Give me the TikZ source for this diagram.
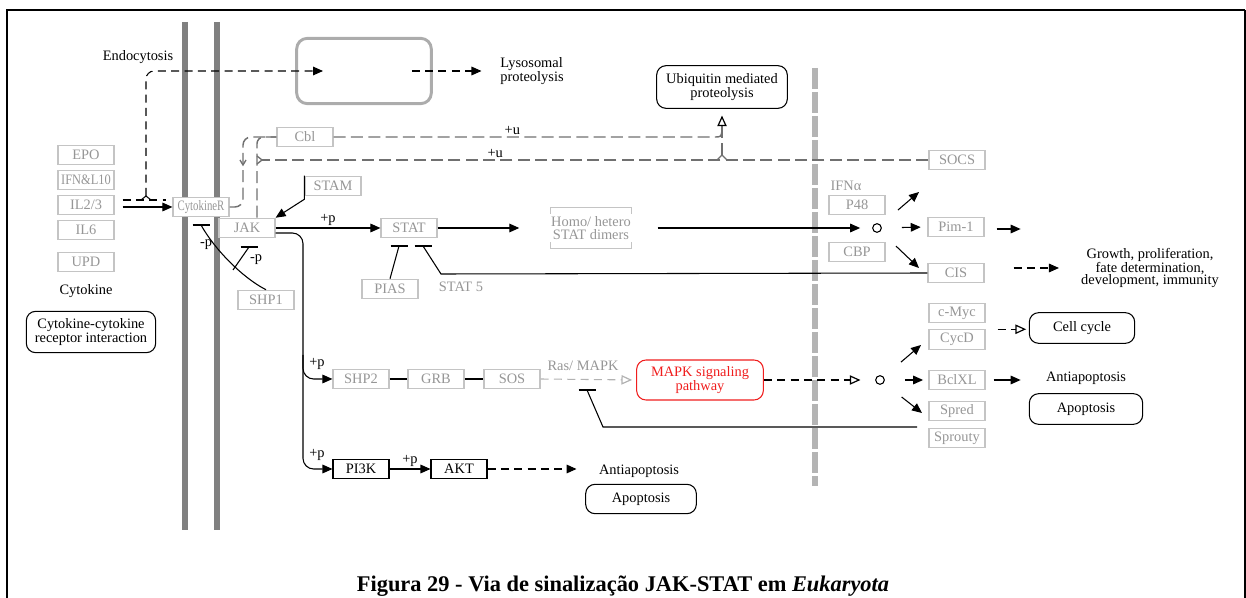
\documentclass[tikz,border=0pt]{standalone}
\usepackage{fontspec}
\setmainfont{Liberation Serif}
\usetikzlibrary{positioning,arrows.meta,calc}
\definecolor{gLine}{RGB}{196,196,196}
\definecolor{gText}{RGB}{150,150,150}
\definecolor{gMemb}{RGB}{128,128,128}
\definecolor{gNuc}{RGB}{180,180,180}
\definecolor{gDash}{RGB}{112,112,112}
\definecolor{kRed}{RGB}{240,30,30}
\newcommand{\kfont}{\fontsize{10.8}{9.2}\selectfont}
\tikzset{
  gene/.style={rectangle, draw=gLine, fill=white, text=gText, line width=0.9pt,
               minimum width=42pt, minimum height=14.5pt, inner sep=0.5pt, font=\kfont},
  genek/.style={gene, draw=black, text=black, line width=0.8pt},
  pwy/.style={rectangle, rounded corners=7pt, draw=black, fill=white, line width=0.8pt,
              align=center, font=\kfont, inner sep=1pt},
  lbl/.style={font=\kfont, inner sep=0.5pt, align=center},
  glbl/.style={lbl, text=gText},
  hub/.style={circle, draw, line width=0.8pt, minimum size=6.5pt, inner sep=0pt},
  act/.style={-{Triangle[length=7.5pt,width=6.5pt]}, line width=0.8pt},
  actd/.style={act, dash pattern=on 6pt off 4pt},
  opn/.style={-{Triangle[open,length=8pt,width=7pt,line width=0.9pt]}, line width=0.8pt},
  opnd/.style={opn, dash pattern=on 6pt off 4pt},
  inhl/.style={line width=0.8pt},
  gdash/.style={draw=gDash, line width=1.1pt, dash pattern=on 9pt off 4pt},
}
\newcommand{\ibar}[1]{\draw[inhl] ($(#1)+(-8.5,0)$) -- ++(17,0);}

\begin{document}
\begin{tikzpicture}[x=0.75pt,y=-0.75pt]
  \useasboundingbox (0,0) rectangle (1246,598);
  % frame
  \draw[line width=2.2pt] (7,598) -- (7,10) -- (1245,10);
  \draw[line width=1.3pt] (1245,10) -- (1245,598);
  % membranes
  \draw[line width=4.5pt, gMemb] (185,22) -- (185,530);
  \draw[line width=4.5pt, gMemb] (217,22) -- (217,530);
  \draw[line width=5pt, gNuc, dash pattern=on 15.5pt off 2.5pt] (815,68) -- (815,486);

  % ligands
  \node[gene] (epo) at (86,155) {EPO};
  \node[gene] (ifn) at (86,180) {\scalebox{0.86}[1]{IFN\&L10}};
  \node[gene] (il23) at (86,205) {IL2/3};
  \node[gene] (il6) at (86,230) {IL6};
  \node[gene] (upd) at (86,262) {UPD};
  \node[lbl] (cytk) at (86,291) {Cytokine};
  \node[pwy, minimum width=97pt, minimum height=31pt] (ccri) at (91,332)
       {Cytokine-cytokine\\receptor interaction};

  % receptor complex
  \node[gene] (cytr) at (201,207) {\scalebox{0.75}[1]{CytokineR}};
  \node[gene] (jak) at (247,228) {JAK};
  \node[gene] (stam) at (333,186) {STAM};
  \node[gene] (cbl) at (305,137) {Cbl};
  \node[gene] (shp1) at (266,300) {SHP1};
  \node[gene] (stat) at (409,228) {STAT};
  \node[glbl, minimum width=40pt, minimum height=30pt] (dimer) at (591,228)
       {Homo/ hetero\\STAT dimers};
  \node[gene] (pias) at (390,289) {PIAS};
  \node[glbl] (stat5) at (461,287) {STAT 5};

  % lower branches
  \node[gene] (shp2) at (361,379) {SHP2};
  \node[gene] (grb) at (436,379) {GRB};
  \node[gene] (sos) at (512,379) {SOS};
  \node[glbl] (rasmapk) at (583,366) {Ras/ MAPK};
  \node[pwy, draw=kRed, text=kRed, minimum width=95pt, minimum height=30pt] (mapk)
       at (700,380) {MAPK signaling\\pathway};
  \node[genek] (pi3k) at (361,469) {PI3K};
  \node[genek] (akt) at (459,469) {AKT};
  \node[lbl] (anti1) at (639,471) {Antiapoptosis};
  \node[pwy, minimum width=83pt, minimum height=22pt] (apo1) at (641,499) {Apoptosis};

  % top
  \node[lbl] (endo) at (138,57) {Endocytosis};
  \node[draw=gray!65, line width=2.2pt, rounded corners=8pt, minimum width=101pt,
        minimum height=49pt] (lyso) at (364,71) {};
  \node[lbl, align=left] (lysop) at (532,71) {Lysosomal\\proteolysis};
  \node[pwy, minimum width=98pt, minimum height=32pt] (ubq) at (722,87)
       {Ubiquitin mediated\\proteolysis};

  % nucleus side
  \node[gene] (socs) at (957,160) {SOCS};
  \node[glbl] (ifna) at (846,186) {IFNα};
  \node[gene] (p48) at (857,205) {P48};
  \node[gene] (cbp) at (857,252) {CBP};
  \node[hub] (hub1) at (877,228) {};
  \node[gene] (pim1) at (956,227) {Pim-1};
  \node[gene] (cis) at (956,273) {CIS};
  \node[lbl] (growth) at (1150,268)
       {Growth, proliferation,\\fate determination,\\development, immunity};
  \node[gene] (cmyc) at (957,313) {c-Myc};
  \node[gene, below=4.5pt of cmyc] (cycd) {CycD};
  \node[pwy, minimum width=79pt, minimum height=23pt] (cellc) at (1082,328) {Cell cycle};
  \node[hub] (hub2) at (880,380) {};
  \node[gene] (bclxl) at (957,380) {BclXL};
  \node[lbl] (anti2) at (1086,378) {Antiapoptosis};
  \node[pwy, minimum width=85pt, minimum height=23pt] (apo2) at (1086,409) {Apoptosis};
  \node[gene] (spred) at (957,411) {Spred};
  \node[gene, below=5pt of spred] (spry) {Sprouty};

  \node[font=\fontsize{16.8}{17}\selectfont\bfseries, anchor=base] (cap) at (623,591)
       {Figura 29 - Via de sinalização JAK-STAT em \textit{Eukaryota}};

  % coordinates for free ends and bars
  \coordinate (lysoin) at (323,71);
  \coordinate (ujn) at (722,155);
  \coordinate (crbar) at (201,225);
  \coordinate (jbar) at (249,247);
  \coordinate (sj) at (233,270);
  \coordinate (pbar) at (399,246);
  \coordinate (s5bar) at (423,246);
  \coordinate (rbar) at (587,390);
  \coordinate (sprend) at (917,427);

  % ligand -> receptor, endocytosis
  \draw[act] ($(il23.east)+(8,2)$) -- (cytr.west);
  \draw[inhl, dash pattern=on 6pt off 4pt] ($(il23.east)+(8,-5)$) -- ++(43,0);
  \draw[inhl] (141,200) -- (146,196) -- (151,200);
  \draw[actd, rounded corners=6pt] (146,196) -- (146,71) -- (lysoin);
  \draw[actd] ($(lyso.east)+(-21,0)$) -- ($(lysop.west)+(-18,0)$);

  % Cbl / SOCS ubiquitination
  \draw[gdash, rounded corners=6pt] (cytr.east) -- (243,207) -- (243,137) -- (cbl.west);
  \draw[gdash, rounded corners=5pt] ($(jak.north)+(10,0)$) -- (257,137) -- (cbl.west);
  \draw[gdash] (cbl.east) -- node[lbl, above=1pt, pos=0.47]{+u} (714,137)
       .. controls (721,137) .. (722,131);
  \draw[gdash] (socs.west) -- node[lbl, above=1pt, pos=0.65]{+u} (262,160);
  \draw[draw=gDash, line width=1pt] (257,156) -- (262,160) -- (257,164);
  \draw[draw=gDash, line width=1pt] (240,160) -- (243,165) -- (246,160);
  \draw[draw=gDash, line width=1pt] (717,160) -- (722,155) -- (727,160);
  \draw[gdash, shorten >=12pt] (ujn) -- (ubq.south);
  \draw[opn, shorten >=5pt] ($(ubq.south)+(0,16)$) -- (ubq.south);

  % receptor signalling
  \draw[act] (stam.north west) -- ($(stam.south west)+(0,3)$) -- (jak.north east);
  \draw[act] (jak.east) -- node[lbl, above=1pt]{+p} (stat.west);
  \draw[act, rounded corners=8pt] ($(jak.east)+(0,5)$) -- (303,233) -- (303,469) -- (pi3k.west);
  \draw[act, rounded corners=8pt] (303,355) -- (303,379) -- (shp2.west);
  \node[lbl] at (317,364) {+p};
  \node[lbl] at (317,455) {+p};
  \draw[act] (pi3k.east) -- node[lbl, above=1pt]{+p} (akt.west);
  \draw[actd] (akt.east) -- ++(89,0);

  % SHP1 inhibition
  \draw[inhl] (shp1.north) .. controls (243,278) and (215,250) .. (crbar);
  \draw[inhl] (sj) -- (jbar);
  \ibar{crbar}
  \ibar{jbar}
  \node[lbl] at (206,245) {-p};
  \node[lbl] at (256,260) {-p};

  % STAT path
  \draw[act] (stat.east) -- ($(dimer.west)+(-31,0)$);
  \draw[gLine, line width=0.9pt] ($(dimer.north west)+(0,6)$) -- (dimer.north west)
       -- (dimer.north east) -- ++(0,6);
  \draw[gLine, line width=0.9pt] ($(dimer.south west)+(0,-6)$) -- (dimer.south west)
       -- (dimer.south east) -- ++(0,-6);
  \draw[act, shorten >=9pt] ($(dimer.east)+(26,0)$) -- (hub1);
  \draw[inhl] (pias.north) -- (pbar);
  \draw[inhl] (cis.west) -- (441,274) -- (s5bar);
  \ibar{pbar}
  \ibar{s5bar}

  % hub1 targets
  \draw[act, shorten <=17pt] (hub1) -- (919,192);
  \draw[act, shorten <=15pt, shorten >=5pt] (hub1) -- (pim1.west);
  \draw[act, shorten <=16pt] (hub1) -- (919,268);
  \draw[act] ($(pim1.east)+(12,2)$) -- ++(24,0);
  \draw[actd, shorten >=16pt] ($(cis.east)+(29,-5)$) -- (growth.west);

  % MAPK path
  \draw[inhl] (shp2) -- (grb);
  \draw[inhl] (grb) -- (sos);
  \draw[opn, draw=gray!60, dash pattern=on 6pt off 4pt, shorten >=3pt] (sos.east) -- (mapk.west);
  \draw[inhl] (sprend) -- (603,427) -- (rbar);
  \ibar{rbar}
  \draw[opnd, shorten >=11pt] (mapk.east) -- (hub2);
  \draw[act, shorten <=17pt] (hub2) -- (921,345);
  \draw[act, shorten <=15pt, shorten >=4pt] (hub2) -- (bclxl.west);
  \draw[act, shorten <=17pt] (hub2) -- (922,413);
  \draw[opnd, shorten >=2pt] ($(cycd.north east)+(12,0)$) -- (cellc.west |- cycd.north);
  \draw[act] ($(bclxl.east)+(8,0)$) -- ++(27,0);
\end{tikzpicture}
\end{document}
